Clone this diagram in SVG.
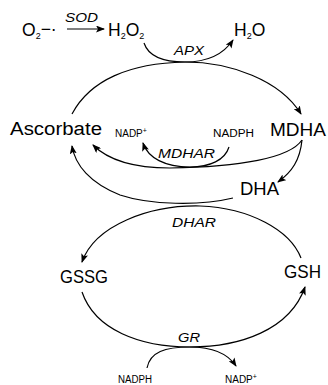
<svg xmlns="http://www.w3.org/2000/svg" width="328" height="385" viewBox="0 0 328 385">
  <style>
    .lbl { font-family: "Liberation Sans", Arial, sans-serif; font-size: 18px; fill: #000; }
    .mol { font-family: "Liberation Sans", Arial, sans-serif; font-size: 17.5px; fill: #000; }
    .enz { font-family: "Liberation Sans", Arial, sans-serif; font-size: 13px; font-style: italic; fill: #000; }
    .cof { font-family: "Liberation Sans", Arial, sans-serif; font-size: 10px; fill: #000; }
    .wire { fill: none; stroke: #000; stroke-width: 1.2; marker-end: url(#ah); }
  </style>
  <defs>
    <marker id="ah" markerWidth="9" markerHeight="7" refX="8" refY="3.5" orient="auto" markerUnits="userSpaceOnUse">
      <path d="M0,0 L9,3.5 L0,7 L2,3.5 z" fill="#000"/>
    </marker>
  </defs>
  <rect width="328" height="385" fill="#fff"/>

  <!-- reactions -->
  <g id="connectors">
    <!-- superoxide dismutation -->
    <path class="wire" d="M67,29 L104,29"/>
    <!-- APX: H2O2 consumed, water released -->
    <path class="wire" d="M144,43 C148,55 160,62 185,62 C210,62 225,52 233,40"/>
    <!-- ascorbate oxidised to MDHA -->
    <path class="wire" d="M72,114 C90,80 130,63 185,62 C230,62 280,80 301,114"/>
    <!-- MDHA reduced back to ascorbate -->
    <path class="wire" d="M302,140 C290,158 240,167 170,168 C135,168 108,160 93,145"/>
    <!-- NADPH to NADP+ alongside MDHAR -->
    <path class="wire" d="M229,147 C225,160 210,167 190,167 C165,167 148,158 143,143"/>
    <!-- MDHA disproportionation to DHA -->
    <path class="wire" d="M302,140 C300,160 292,172 278,182"/>
    <!-- DHA reduced to ascorbate -->
    <path class="wire" d="M233,198 C200,206 150,205 120,195 C90,183 75,165 72,146"/>
    <!-- GSH oxidised to GSSG -->
    <path class="wire" d="M301,258 C290,230 250,208 200,206 C150,205 95,225 82,262"/>
    <!-- GSSG reduced to GSH -->
    <path class="wire" d="M82,292 C95,330 140,347 190,347 C240,347 290,330 305,287"/>
    <!-- NADPH to NADP+ alongside GR -->
    <path class="wire" d="M147,368 C150,352 165,347 190,347 C212,347 228,354 236,366"/>
  </g>

  <!-- species -->
  <g id="superoxide">
    <text class="mol" x="22" y="36">O<tspan font-size="9" dy="3">2</tspan><tspan dy="-4">−·</tspan></text>
  </g>
  <g id="h2o2">
    <text class="mol" x="108" y="36">H<tspan font-size="9" dy="3">2</tspan><tspan dy="-3">O</tspan><tspan font-size="9" dy="3">2</tspan></text>
  </g>
  <g id="h2o">
    <text class="mol" x="234" y="36">H<tspan font-size="9" dy="3">2</tspan><tspan dy="-3">O</tspan></text>
  </g>
  <g id="ascorbate">
    <text class="lbl" x="10" y="135" textLength="92" lengthAdjust="spacingAndGlyphs">Ascorbate</text>
  </g>
  <g id="mdha">
    <text class="lbl" x="270" y="136" textLength="56" lengthAdjust="spacingAndGlyphs">MDHA</text>
  </g>
  <g id="dha">
    <text class="lbl" x="240" y="195" textLength="39" lengthAdjust="spacingAndGlyphs">DHA</text>
  </g>
  <g id="gssg">
    <text class="lbl" x="60" y="283" textLength="48" lengthAdjust="spacingAndGlyphs">GSSG</text>
  </g>
  <g id="gsh">
    <text class="lbl" x="284" y="278" textLength="37" lengthAdjust="spacingAndGlyphs">GSH</text>
  </g>
  <g id="nadp-top">
    <text class="cof" x="115" y="137">NADP<tspan font-size="7" dy="-4">+</tspan></text>
  </g>
  <g id="nadph-top">
    <text class="cof" x="213" y="137" textLength="41" lengthAdjust="spacingAndGlyphs">NADPH</text>
  </g>
  <g id="nadph-bottom">
    <text class="cof" x="118" y="383" textLength="34" lengthAdjust="spacingAndGlyphs">NADPH</text>
  </g>
  <g id="nadp-bottom">
    <text class="cof" x="225" y="383">NADP<tspan font-size="7" dy="-4">+</tspan></text>
  </g>

  <!-- enzymes -->
  <g id="sod"><text class="enz" x="65" y="22" textLength="33" lengthAdjust="spacingAndGlyphs">SOD</text></g>
  <g id="apx"><text class="enz" x="174" y="55" textLength="30" lengthAdjust="spacingAndGlyphs">APX</text></g>
  <g id="mdhar"><text class="enz" x="158" y="158" textLength="57" lengthAdjust="spacingAndGlyphs">MDHAR</text></g>
  <g id="dhar"><text class="enz" x="172" y="227" textLength="44" lengthAdjust="spacingAndGlyphs">DHAR</text></g>
  <g id="gr"><text class="enz" x="178" y="342" textLength="22" lengthAdjust="spacingAndGlyphs">GR</text></g>
</svg>
